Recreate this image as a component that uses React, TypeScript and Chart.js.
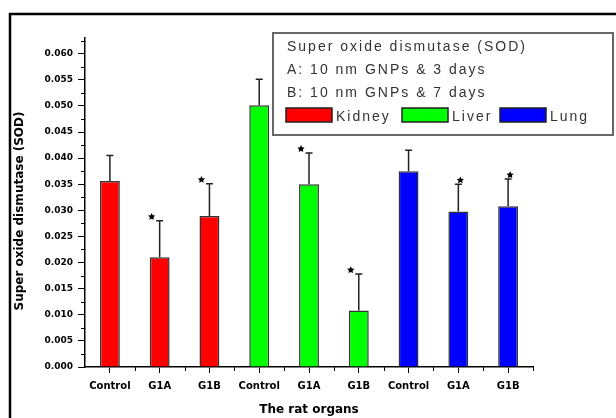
import React, { useEffect, useRef } from "react";
import { Chart, registerables } from "chart.js";

Chart.register(...registerables);

const categories = ["Control", "G1A", "G1B", "Control", "G1A", "G1B", "Control", "G1A", "G1B"];
const organs = ["Kidney", "Liver", "Lung"];
const organColors = ["#ff0000", "#00ff00", "#0000ff"];
const barOrgan = [0, 0, 0, 1, 1, 1, 2, 2, 2];
const sodMean = [0.0356, 0.021, 0.0289, 0.0501, 0.035, 0.0108, 0.0375, 0.0298, 0.0308];
const sodErr = [0.0049, 0.007, 0.0062, 0.005, 0.006, 0.007, 0.004, 0.0052, 0.0052];
const significant = [false, true, true, false, true, true, false, true, true];
const yTitle = "Super oxide dismutase (SOD)";
const xTitle = "The rat organs";
const legendTitle = "Super oxide dismutase (SOD)";
const legendLines = ["A: 10 nm GNPs & 3 days", "B: 10 nm GNPs & 7 days"];
const yMin = 0;
const yMax = 0.063;
const yStep = 0.005;

function drawStar(ctx: CanvasRenderingContext2D, cx: number, cy: number, r: number) {
  ctx.beginPath();
  for (let i = 0; i < 10; i++) {
    const rad = i % 2 === 0 ? r : r * 0.5;
    const a = -Math.PI / 2 + (i * Math.PI) / 5;
    const px = cx + rad * Math.cos(a);
    const py = cy + rad * Math.sin(a);
    if (i === 0) ctx.moveTo(px, py);
    else ctx.lineTo(px, py);
  }
  ctx.closePath();
  ctx.fill();
}

const decorPlugin = {
  id: "decor",
  afterDatasetsDraw(chart: any) {
    const ctx = chart.ctx as CanvasRenderingContext2D;
    const ys = chart.scales.y;
    const meta = chart.getDatasetMeta(0);
    ctx.save();
    ctx.strokeStyle = "#222";
    ctx.lineWidth = 1.5;
    meta.data.forEach((el: any, i: number) => {
      const top = ys.getPixelForValue(sodMean[i] + sodErr[i]);
      ctx.beginPath();
      ctx.moveTo(el.x, el.y);
      ctx.lineTo(el.x, top);
      ctx.moveTo(el.x - 3.5, top);
      ctx.lineTo(el.x + 3.5, top);
      ctx.stroke();
      if (significant[i]) {
        ctx.fillStyle = "#000";
        const dx = barOrgan[i] < 2 ? -8 : 2;
        drawStar(ctx, el.x + dx, top - 4, 3.8);
      }
    });
    ctx.restore();
  },
  afterDraw(chart: any) {
    const ctx = chart.ctx as CanvasRenderingContext2D;
    const ys = chart.scales.y;
    const area = chart.chartArea;
    ctx.save();
    ctx.strokeStyle = "#000";
    ctx.lineWidth = 1;
    for (let v = yStep / 2; v < yMax; v += yStep) {
      const y = Math.round(ys.getPixelForValue(v)) + 0.5;
      ctx.beginPath();
      ctx.moveTo(area.left - 4, y);
      ctx.lineTo(area.left, y);
      ctx.stroke();
    }
    const catW = (area.right - area.left) / categories.length;
    for (let i = 1; i <= categories.length; i++) {
      const x = Math.round(area.left + i * catW) + 0.5;
      ctx.beginPath();
      ctx.moveTo(x, area.bottom);
      ctx.lineTo(x, area.bottom + 4);
      ctx.stroke();
    }
    // y axis title
    ctx.save();
    ctx.translate(20, 211);
    ctx.rotate(-Math.PI / 2);
    ctx.fillStyle = "#000";
    ctx.font = "bold 12px 'DejaVu Sans', sans-serif";
    ctx.textAlign = "center";
    ctx.textBaseline = "middle";
    ctx.fillText(yTitle, 0, 0);
    ctx.restore();
    // outer frame (top & left)
    ctx.strokeStyle = "#000";
    ctx.lineWidth = 2.5;
    ctx.beginPath();
    ctx.moveTo(10, 418);
    ctx.lineTo(10, 14);
    ctx.lineTo(616, 14);
    ctx.stroke();
    // legend box
    const bx = 273, by = 33, bw = 340, bh = 102;
    ctx.fillStyle = "#fff";
    ctx.fillRect(bx, by, bw, bh);
    ctx.strokeStyle = "#666";
    ctx.lineWidth = 2;
    ctx.strokeRect(bx, by, bw, bh);
    ctx.fillStyle = "#333";
    ctx.font = "14px 'Liberation Sans', Arial, sans-serif";
    (ctx as any).letterSpacing = "2px";
    ctx.textBaseline = "alphabetic";
    ctx.textAlign = "left";
    ctx.fillText(legendTitle, 287, 51);
    legendLines.forEach((t, i) => ctx.fillText(t, 287, 74 + i * 23));
    const swX = [286, 402, 500];
    organs.forEach((o, i) => {
      ctx.fillStyle = organColors[i];
      ctx.fillRect(swX[i], 108, 46, 14);
      ctx.strokeStyle = "#222";
      ctx.lineWidth = 1.5;
      ctx.strokeRect(swX[i], 108, 46, 14);
      ctx.fillStyle = "#333";
      ctx.fillText(o, swX[i] + 50, 121);
    });
    (ctx as any).letterSpacing = "0px";
    ctx.restore();
  },
};

export default function App() {
  const ref = useRef<HTMLCanvasElement>(null);
  useEffect(() => {
    if (!ref.current) return;
    const chart = new Chart(ref.current, {
      type: "bar",
      data: {
        labels: categories,
        datasets: [
          {
            data: sodMean,
            backgroundColor: barOrgan.map((o) => organColors[o]),
            borderColor: "#333",
            borderWidth: 1.5,
            barPercentage: 0.4,
            categoryPercentage: 1,
          },
        ],
      },
      options: {
        responsive: false,
        animation: false,
        devicePixelRatio: 1,
        layout: { padding: { top: 38, right: 83, left: 0, bottom: 0 } },
        plugins: { legend: { display: false }, tooltip: { enabled: false } },
        scales: {
          x: {
            offset: true,
            grid: { display: true, drawOnChartArea: false, offset: false, tickLength: 6, color: "#000", tickColor: "#000" },
            border: { display: true, color: "#000", width: 1.5 },
            ticks: {
              color: "#000",
              padding: 7,
              maxRotation: 0,
              autoSkip: false,
              font: { family: "'DejaVu Sans', sans-serif", weight: "bold", size: 10 },
            },
            title: {
              display: true,
              text: xTitle,
              color: "#000",
              font: { family: "'DejaVu Sans', sans-serif", weight: "bold", size: 12 },
              padding: { top: 0, bottom: 1 },
            },
            afterFit: (s: any) => {
              s.height = 51;
            },
          },
          y: {
            min: yMin,
            max: yMax,
            grid: { display: true, drawOnChartArea: false, tickLength: 7, color: "#000", tickColor: "#000" },
            border: { display: true, color: "#000", width: 1.5 },
            ticks: {
              stepSize: yStep,
              includeBounds: false,
              color: "#000",
              padding: 5,
              font: { family: "'DejaVu Sans', sans-serif", weight: "bold", size: 9 },
              callback: (v: any) => Number(v).toFixed(3),
            },
            title: { display: false },
            afterFit: (s: any) => {
              s.width = 85;
            },
          },
        },
      },
      plugins: [decorPlugin],
    } as any);
    return () => chart.destroy();
  }, []);
  return (
    <div style={{ position: "fixed", left: 0, top: 0, width: 616, height: 418, background: "#fff" }}>
      <canvas ref={ref} width={616} height={418} />
    </div>
  );
}
